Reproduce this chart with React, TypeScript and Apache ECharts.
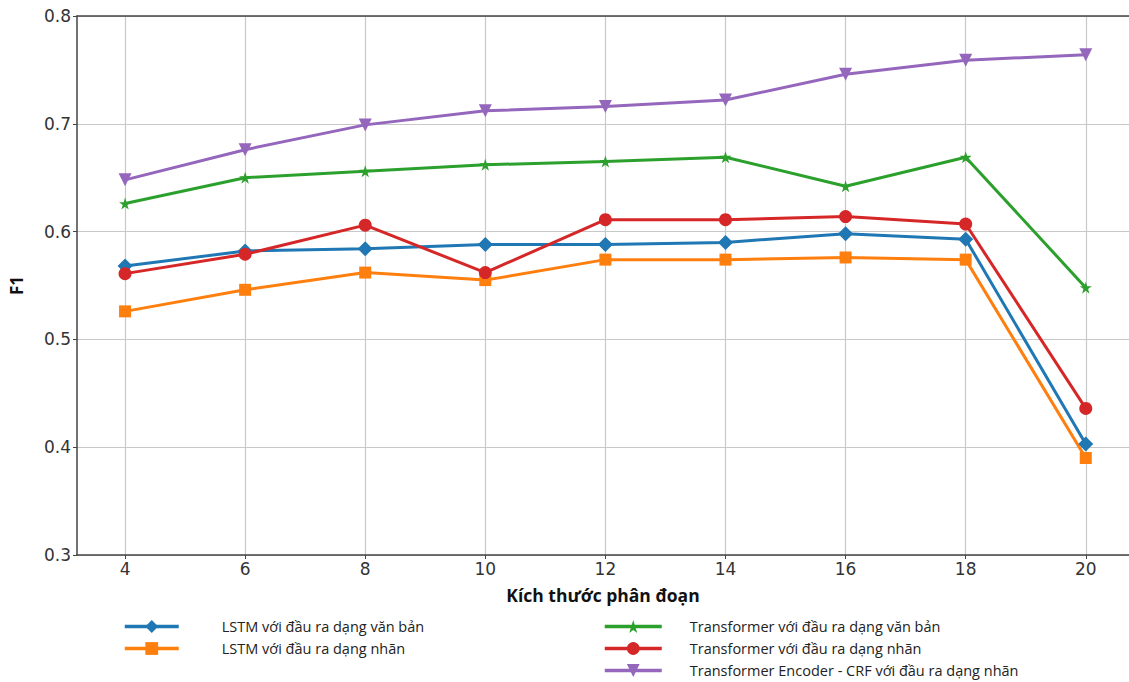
import React, { useEffect, useRef } from "react";
import * as echarts from "echarts";

const segmentSizes = [4, 6, 8, 10, 12, 14, 16, 18, 20];
const yTicks = [0.3, 0.4, 0.5, 0.6, 0.7, 0.8];

const lstmText = [0.568, 0.582, 0.584, 0.588, 0.588, 0.590, 0.598, 0.593, 0.403];
const lstmLabel = [0.526, 0.546, 0.562, 0.555, 0.574, 0.574, 0.576, 0.574, 0.390];
const transText = [0.626, 0.650, 0.656, 0.662, 0.665, 0.669, 0.642, 0.669, 0.548];
const transLabel = [0.561, 0.579, 0.606, 0.562, 0.611, 0.611, 0.614, 0.607, 0.436];
const transCrf = [0.648, 0.676, 0.699, 0.712, 0.716, 0.722, 0.746, 0.759, 0.764];

const names = [
  "LSTM với đầu ra dạng văn bản",
  "LSTM với đầu ra dạng nhãn",
  "Transformer với đầu ra dạng văn bản",
  "Transformer với đầu ra dạng nhãn",
  "Transformer Encoder - CRF với đầu ra dạng nhãn",
];
const colors = ["#1f77b4", "#ff7f0e", "#2ca02c", "#d62728", "#9467bd"];
const values = [lstmText, lstmLabel, transText, transLabel, transCrf];
const symbols = [
  "diamond",
  "rect",
  "path://M50,0 L61.8,36.2 L100,36.2 L69.1,58.8 L80.9,95.1 L50,72.7 L19.1,95.1 L30.9,58.8 L0,36.2 L38.2,36.2 Z",
  "circle",
  "path://M0,0 L100,0 L50,90 Z",
];
const symbolSizes = [15, 12, 12, 13, 13];

export default function App() {
  const ref = useRef<HTMLDivElement>(null);
  useEffect(() => {
    if (!ref.current) return;
    const chart = echarts.init(ref.current, undefined, { renderer: "svg" });
    const legendBase = {
      orient: "vertical",
      top: 614,
      height: 120,
      itemHeight: 16,
      itemGap: 7,
      lineStyle: { width: 3.5 },
    };
    chart.setOption({
      animation: false,
      backgroundColor: "#ffffff",
      grid: {
        left: 77,
        right: 0,
        top: 16,
        bottom: 127,
      },
      legend: [
        {
          ...legendBase,
          data: names.slice(0, 2),
          left: 118,
          itemWidth: 54,
          textStyle: {
            fontFamily: "Open Sans",
            fontSize: 14.5,
            color: "#222",
            padding: [0, 0, 0, 38],
          },
        },
        {
          ...legendBase,
          data: names.slice(2),
          left: 598,
          itemWidth: 57,
          textStyle: {
            fontFamily: "Open Sans",
            fontSize: 14.5,
            color: "#222",
            padding: [0, 0, 0, 23],
          },
        },
      ],
      xAxis: [
        {
          type: "value",
          min: 3.2,
          max: 20.72,
          name: "Kích thước phân đoạn",
          nameLocation: "middle",
          nameGap: 31,
          nameTextStyle: {
            fontFamily: "Open Sans",
            fontWeight: "bold",
            fontSize: 17.5,
            color: "#111",
          },
          axisLine: { show: true, lineStyle: { color: "#444", width: 1.5 } },
          axisTick: {
            show: true,
            customValues: segmentSizes,
            length: 4,
            lineStyle: { color: "#444" },
          },
          axisLabel: {
            customValues: segmentSizes,
            fontFamily: "DejaVu Sans",
            fontSize: 17,
            color: "#333",
            margin: 5,
          },
          splitLine: { show: true, lineStyle: { color: "#c8c8c8", width: 1.2 } },
        },
        {
          type: "value",
          position: "top",
          min: 3.2,
          max: 20.72,
          axisLine: { show: true, lineStyle: { color: "#444", width: 1.5 } },
          axisTick: { show: false },
          axisLabel: { show: false },
          splitLine: { show: false },
        },
      ],
      yAxis: {
        type: "value",
        min: 0.3,
        max: 0.8,
        interval: 0.1,
        name: "F1",
        nameLocation: "middle",
        nameGap: 52,
        nameTextStyle: {
          fontFamily: "Open Sans",
          fontWeight: "bold",
          fontSize: 17,
          color: "#111",
        },
        axisLine: { show: true, lineStyle: { color: "#444", width: 1.5 } },
        axisTick: { show: true, length: 4, lineStyle: { color: "#444" } },
        axisLabel: {
          fontFamily: "DejaVu Sans",
          fontSize: 17,
          color: "#333",
          margin: 6,
          formatter: (v: number) => v.toFixed(1),
          customValues: yTicks,
        },
        splitLine: { show: true, lineStyle: { color: "#c8c8c8", width: 1.2 } },
      },
      series: names.map((n, i) => ({
        name: n,
        type: "line",
        xAxisIndex: 0,
        data: segmentSizes.map((x, j) => [x, values[i][j]]),
        symbol: symbols[i],
        symbolSize: symbolSizes[i],
        showAllSymbol: true,
        lineStyle: { color: colors[i], width: 3 },
        itemStyle: { color: colors[i] },
        emphasis: { disabled: true },
      })),
    });
    return () => chart.dispose();
  }, []);
  return (
    <div
      ref={ref}
      style={{ position: "fixed", left: 0, top: 0, width: 1129, height: 682 }}
    />
  );
}
